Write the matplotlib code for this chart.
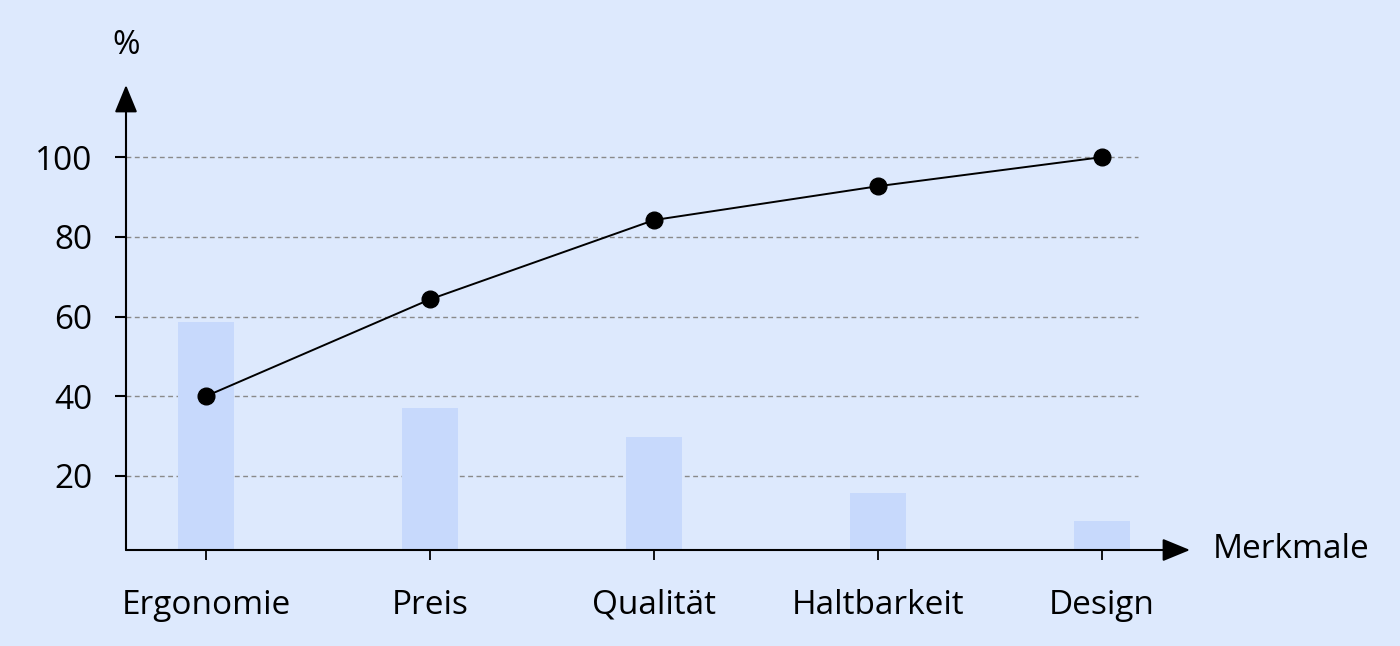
import matplotlib.pyplot as plt
import numpy as np

plt.rcParams['font.family'] = ['Open Sans', 'DejaVu Sans']

merkmale = ['Ergonomie', 'Preis', 'Qualität', 'Haltbarkeit', 'Design']
anteil = [58.5, 37.1, 29.8, 15.7, 8.7]          # Balken
kumuliert = [40, 64.3, 84.2, 92.7, 100]         # Linie
yticks = [20, 40, 60, 80, 100]

bg = '#dde9fd'
fig = plt.figure(figsize=(14, 6.46), dpi=100, facecolor=bg)
ax = fig.add_axes([126 / 1400, 1 - 550 / 646, (1190 - 126) / 1400, (550 - 85) / 646])
ax.set_facecolor(bg)

x0 = -0.357
ybot = 1.4
pos = np.arange(len(merkmale))

ax.hlines(yticks, x0, 4.16, colors='#8a8a8a', linestyles=(0, (3.5, 2.5)), linewidth=1, zorder=1)
ax.bar(pos, np.array(anteil) - ybot, bottom=ybot, width=0.25, color='#c7d9fc', zorder=2)
ax.plot(pos, kumuliert, color='black', linewidth=1.4, marker='o', markersize=12, zorder=3)

ax.set_xlim(x0, 4.393)
ax.set_ylim(ybot, 118.1)

for s in ax.spines.values():
    s.set_visible(False)

# Achsen mit Pfeilen
ax.annotate('', xy=(1, 0), xytext=(0, 0), xycoords='axes fraction',
            arrowprops=dict(arrowstyle='-|>,head_length=1.7,head_width=0.7', color='black',
                            lw=1.5, shrinkA=0, shrinkB=0, mutation_scale=10))
ax.annotate('', xy=(0, 1), xytext=(0, 0), xycoords='axes fraction',
            arrowprops=dict(arrowstyle='-|>,head_length=1.7,head_width=0.7', color='black',
                            lw=1.5, shrinkA=0, shrinkB=0, mutation_scale=10))

ax.set_xticks(pos)
ax.set_xticklabels(merkmale, fontsize=24)
ax.set_yticks(yticks)
ax.set_yticklabels([str(v) for v in yticks], fontsize=24)
ax.tick_params(axis='x', length=7, width=1.3, pad=21)
ax.tick_params(axis='y', length=8, width=1.5, pad=16)

fig.text(126 / 1400, 1 - 45 / 646, '%', fontsize=24, ha='center', va='center')
fig.text(1213 / 1400, 1 - 550 / 646, 'Merkmale', fontsize=24, ha='left', va='center')

fig.savefig('out.png', dpi=100, facecolor=bg)
